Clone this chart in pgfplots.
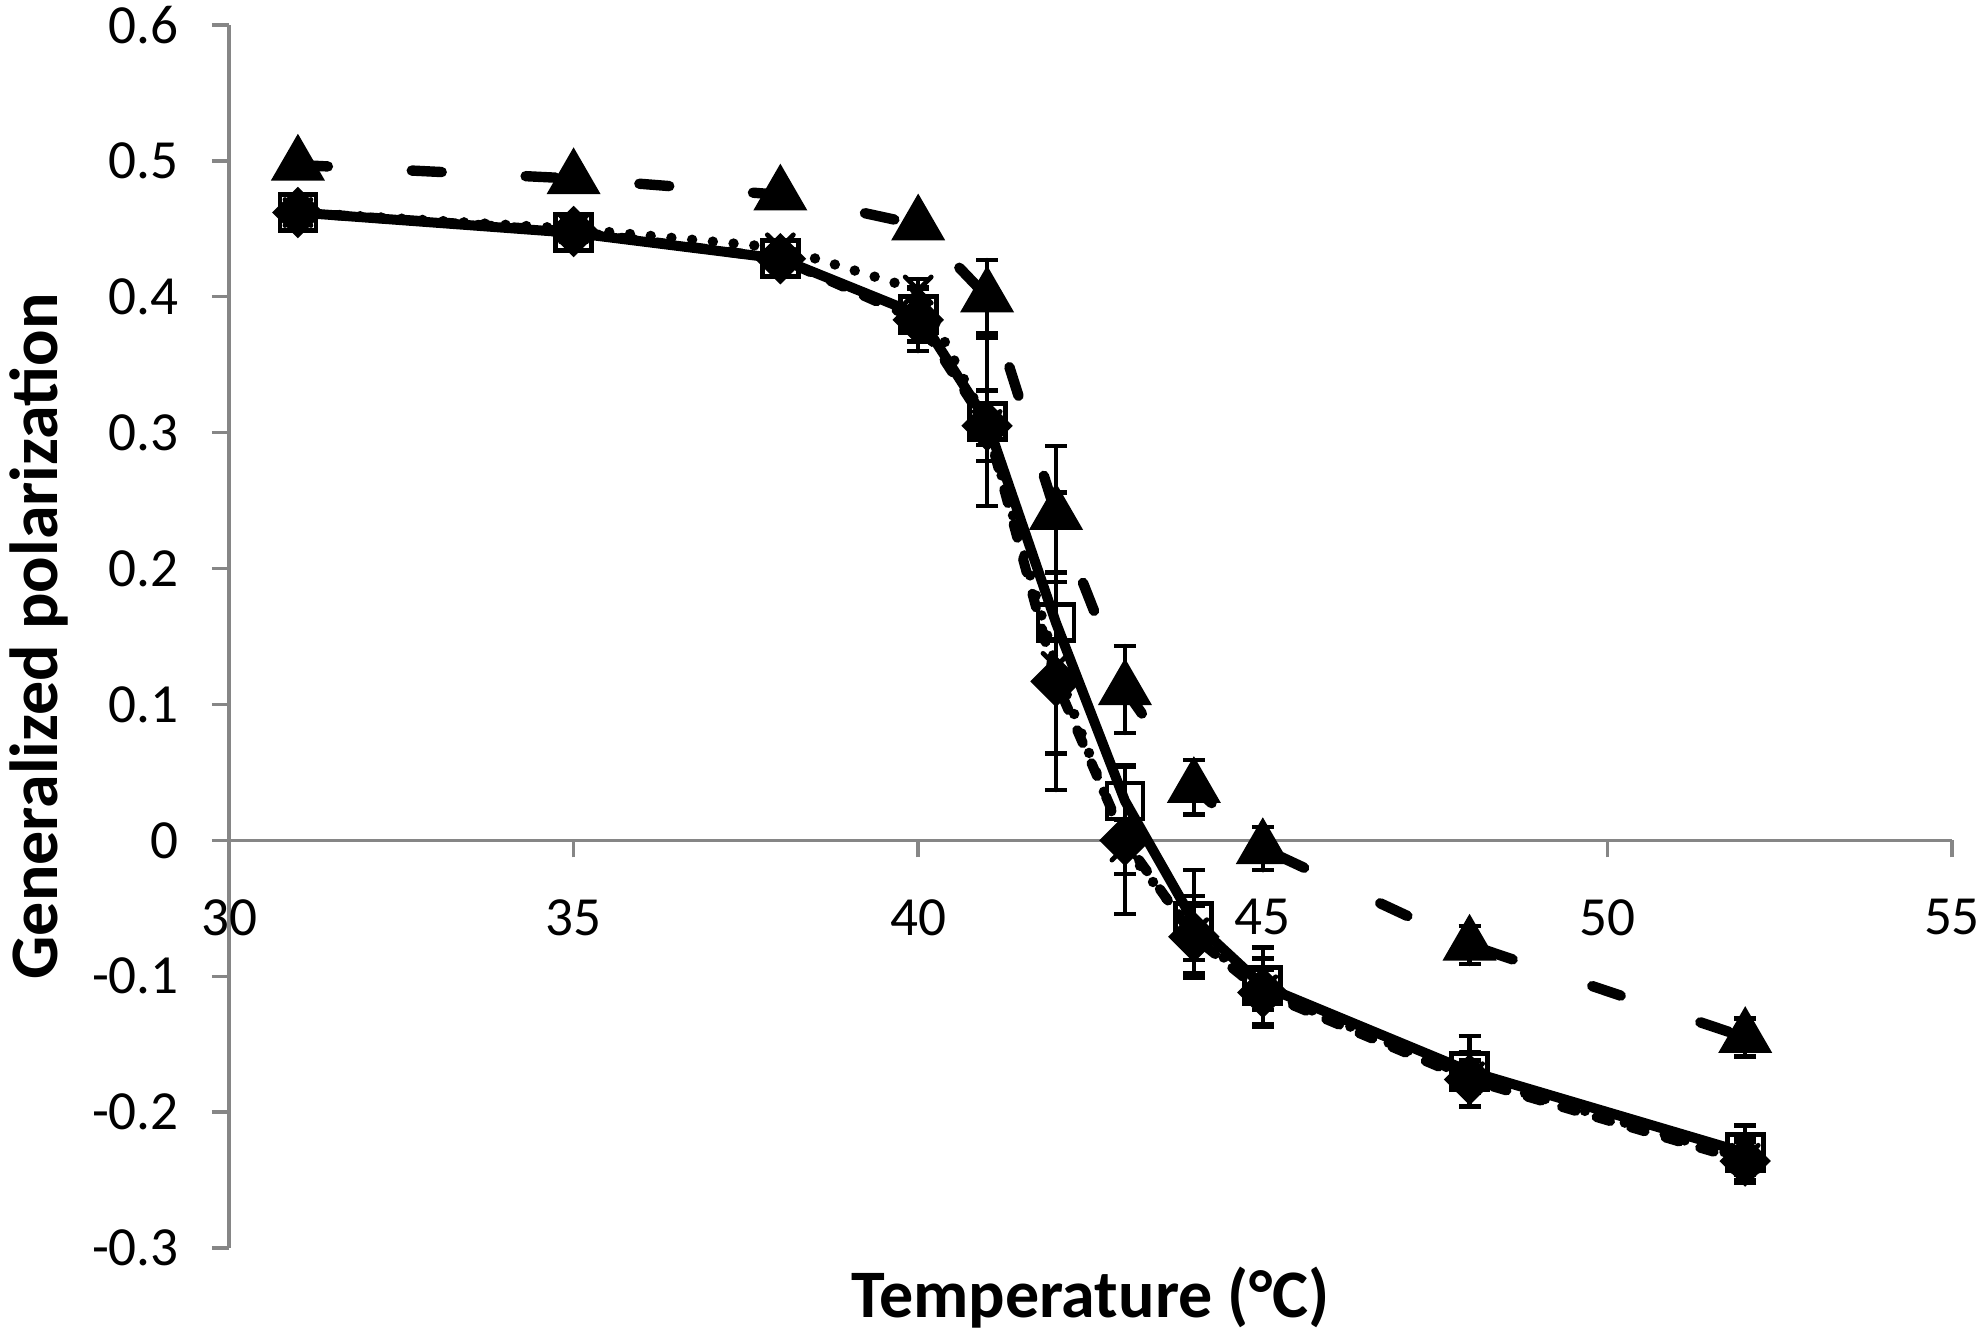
\documentclass[border=0pt]{standalone}
\usepackage{fontspec}
\setmainfont{Carlito}
\usepackage{pgfplots}
\pgfplotsset{compat=1.18}
\usepackage{pgfplotstable}
\definecolor{axisgray}{RGB}{134,134,134}

\pgfplotstableread{
T y e
31 0.462 0.000
35 0.447 0.000
38 0.428 0.000
40 0.387 0.020
41 0.308 0.062
42 0.160 0.096
43 0.029 0.026
44 -0.060 0.038
45 -0.107 0.028
48 -0.170 0.026
52 -0.230 0.020
}\sqdata

\pgfplotstableread{
T y e
31 0.462 0.004
35 0.448 0.005
38 0.428 0.006
40 0.383 0.023
41 0.305 0.026
42 0.117 0.080
43 0.000 0.054
44 -0.071 0.030
45 -0.112 0.025
48 -0.176 0.020
52 -0.236 0.016
}\diadata

\pgfplotstableread{
T y e
31 0.462 0.004
35 0.450 0.005
38 0.436 0.005
40 0.405 0.008
41 0.306 0.015
42 0.128 0.020
43 -0.005 0.020
44 -0.068 0.020
45 -0.110 0.015
48 -0.174 0.012
52 -0.234 0.012
}\xdata

\pgfplotstableread{
T y e
31 0.497 0.004
35 0.487 0.004
38 0.475 0.004
40 0.453 0.006
41 0.400 0.027
42 0.240 0.050
43 0.111 0.032
44 0.039 0.020
45 -0.006 0.016
48 -0.077 0.014
52 -0.145 0.014
}\tridata

\begin{document}
\begin{tikzpicture}
\useasboundingbox (-57.25pt,-22.25pt) rectangle (439.25pt,312pt);
\begin{axis}[
  at={(0,0)}, anchor=south west,
  scale only axis, width=430.75pt, height=305.75pt,
  xmin=30, xmax=55, ymin=-0.3, ymax=0.6,
  axis x line=middle, axis y line=left,
  axis line style={draw=axisgray, line width=0.85pt, -},
  xtick={30,35,40,45,50,55},
  xticklabels={30,35,40,45,50,55},
  ytick={-0.3,-0.2,-0.1,0,0.1,0.2,0.3,0.4,0.5,0.6},
  yticklabels={-0.3,-0.2,-0.1,0,0.1,0.2,0.3,0.4,0.5,0.6},
  tick style={draw=axisgray, line width=0.85pt},
  major tick length=4.25pt,
  tick align=outside,
  minor tick num=0,
  hide obscured x ticks=false, hide obscured y ticks=false,
  ticklabel style={font=\fontsize{13.8}{16}\selectfont, text=black},
  xticklabel style={yshift=-7pt},
  yticklabel style={xshift=-4.75pt},
  xlabel={Temperature (°C)},
  ylabel={Generalized polarization},
  xlabel style={at={(axis description cs:0.5,-0.0566)}, anchor=base, font=\fontsize{17}{20}\selectfont\bfseries},
  ylabel style={at={(axis description cs:-0.0998,0.5)}, anchor=base, rotate=0, font=\fontsize{17}{20}\selectfont\bfseries},
  every axis plot/.append style={black},
  error bars/y dir=both, error bars/y explicit,
  error bars/error bar style={solid, line width=1.1pt, black},
  error bars/error mark options={rotate=90, mark size=2.75pt, line width=1.1pt, solid, black},
]
% open squares, solid line
\addplot[line width=2.5pt, mark=square, mark size=4.5pt,
  mark options={solid, draw=black, line width=1.2pt}]
  table[x=T, y=y, y error=e] {\sqdata};
% filled diamonds, dashed line
\addplot[line width=2.5pt, line cap=round, dash pattern=on 3.5pt off 5.5pt,
  mark=square*, mark size=3.3pt,
  mark options={solid, rotate=45, fill=black, draw=black}]
  table[x=T, y=y, y error=e] {\diadata};
% crosses, dotted line
\addplot[line width=2.6pt, line cap=round, dash pattern=on 0pt off 5.2pt,
  mark=x, mark size=4.6pt,
  mark options={solid, line width=1.2pt, draw=black}]
  table[x=T, y=y, y error=e] {\xdata};
% filled triangles, long dashed line
\addplot[line width=2.6pt, line cap=round, dash pattern=on 7.5pt off 21pt,
  mark=triangle*, mark size=5.2pt,
  mark options={solid, fill=black, draw=black}]
  table[x=T, y=y, y error=e] {\tridata};
\end{axis}
\end{tikzpicture}
\end{document}
